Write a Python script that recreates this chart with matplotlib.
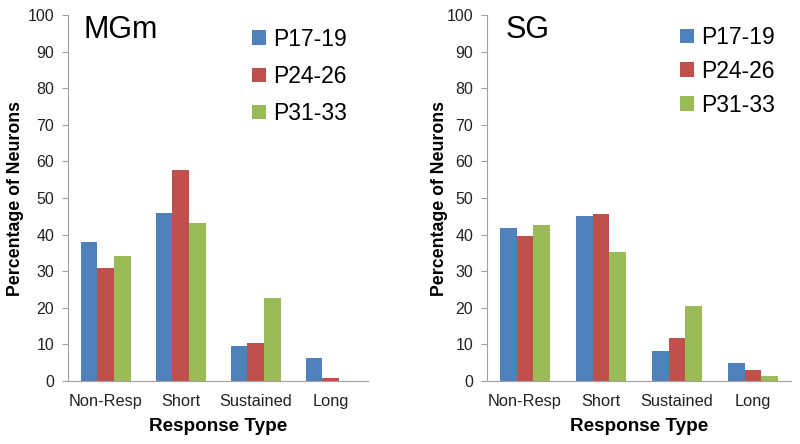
import matplotlib
matplotlib.use("Agg")
import matplotlib.pyplot as plt
import numpy as np

plt.rcParams['font.family'] = ['Liberation Sans', 'DejaVu Sans']

categories = ["Non-Resp", "Short", "Sustained", "Long"]
series = ["P17-19", "P24-26", "P31-33"]
colors = ["#4F81BD", "#C0504D", "#9BBB59"]

mgm_p17 = [38.0, 46.0, 9.5, 6.3]
mgm_p24 = [30.9, 57.7, 10.4, 0.9]
mgm_p31 = [34.1, 43.1, 22.7, 0.0]

sg_p17 = [41.7, 45.2, 8.3, 4.8]
sg_p24 = [39.6, 45.5, 11.7, 2.9]
sg_p31 = [42.6, 35.2, 20.5, 1.4]

fig = plt.figure(figsize=(8, 4.44), dpi=100)
axL = fig.add_axes([68/800, 1-381/444, 300/800, 366/444])
axR = fig.add_axes([487/800, 1-381/444, 304/800, 366/444])

def draw(ax, data, title, title_x, leg_anchor, leg_spacing, ylab_x):
    x = np.arange(len(categories))
    w = 1/4.5
    for i, (vals, c, lab) in enumerate(zip(data, colors, series)):
        ax.bar(x + (i-1)*w, vals, width=w, color=c, label=lab)
    ax.set_xlim(-0.5, len(categories)-0.5)
    ax.set_ylim(0, 100)
    ax.set_yticks(range(0, 101, 10))
    ax.set_xticks(x)
    ax.set_xticklabels(categories, fontsize=11.8, color='#222222')
    ax.tick_params(axis='x', length=0, pad=9)
    ax.tick_params(axis='y', length=4, color='#A0A0A0', labelsize=11.5, labelcolor='#222222', pad=6)
    for s in ['top', 'right']:
        ax.spines[s].set_visible(False)
    for s in ['left', 'bottom']:
        ax.spines[s].set_color('#A0A0A0')
    ax.set_xlabel("Response Type", fontsize=13.6, fontweight='bold', labelpad=7)
    ax.set_ylabel("Percentage of Neurons", fontsize=12.8, fontweight='bold')
    ax.yaxis.set_label_coords(ylab_x, 0.5)
    ax.text(title_x, 96, title, fontsize=22, va='center', ha='left', transform=ax.transData)
    ax.legend(frameon=False, fontsize=16.5, handlelength=0.6, handleheight=0.6,
              handletextpad=0.3, labelspacing=leg_spacing, loc='upper right',
              bbox_to_anchor=leg_anchor, borderaxespad=0)

draw(axL, [mgm_p17, mgm_p24, mgm_p31], "MGm", -0.30, (1 - 12/300, 0.99), 0.62, -0.145)
draw(axR, [sg_p17, sg_p24, sg_p31], "SG", -0.25, (1 - 7/304, 0.995), 0.47, -0.127)

fig.savefig("out.png", dpi=100)
